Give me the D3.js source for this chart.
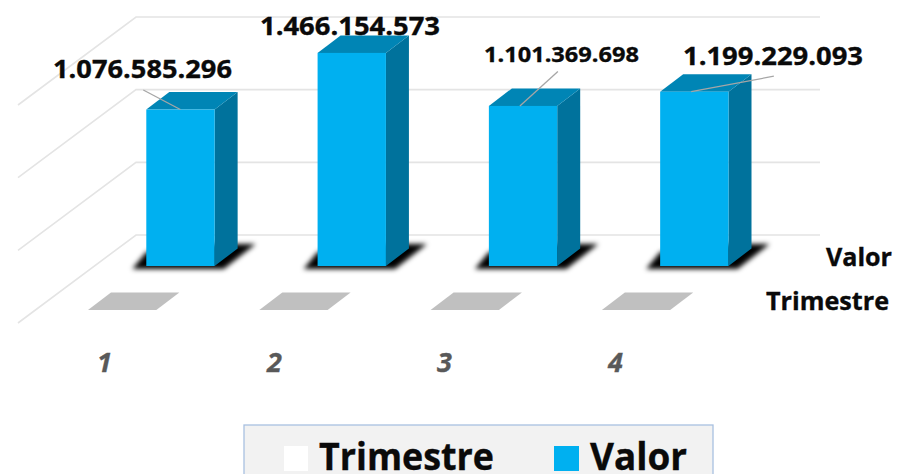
<!DOCTYPE html>
<html><head><meta charset="utf-8">
<script src="https://cdn.jsdelivr.net/npm/d3@7/dist/d3.min.js"></script>
<style>html,body{margin:0;padding:0;background:#fff;overflow:hidden}svg{display:block}text{font-family:"Open Sans","Noto Sans",sans-serif;font-weight:700;stroke:currentColor;stroke-width:.35px}</style>
</head><body><svg id="c" width="897" height="474"></svg>
<script>
const categories = ["1","2","3","4"];
const valor = [1076585296,1466154573,1101369698,1199229093];
const trimestre = [1,2,3,4];
const valueTicks = [0,500000000,1000000000,1500000000];
const seriesNames = ["Trimestre","Valor"];
const labelText = ["1.076.585.296","1.466.154.573","1.101.369.698","1.199.229.093"];

const svg = d3.select("#c").style("color","#0a0a0a");
const depth = {dx:23, dy:-17.5};
const floorShift = {dx:-118, dy:88};
const x = d3.scaleBand().domain(categories).range([146.3,728.5]).paddingInner(0.601).paddingOuter(0);
const y = d3.scaleLinear().domain([0,1500000000]).range([266,48]);
const defs = svg.append("defs");
defs.append("filter").attr("id","blur").attr("x","-20%").attr("y","-50%").attr("width","140%").attr("height","200%")
  .append("feGaussianBlur").attr("stdDeviation",2.8);

// gridlines: back wall + side wall
const backY = v => y(v)-31;
const grid = svg.append("g").attr("stroke","#e4e4e4").attr("fill","none");
grid.selectAll("polyline").data(valueTicks).join("polyline")
  .attr("stroke-width",1.6)
  .attr("points",v=>`${136+floorShift.dx},${backY(v)+floorShift.dy} 136,${backY(v)} 820,${backY(v)}`);

// Trimestre series: near-zero plates on the front row
const plateG = svg.append("g");
plateG.selectAll("polygon").data(trimestre).join("polygon")
  .attr("fill","#c0c0c0")
  .attr("points",(v,i)=>{
    const x0=x(categories[i])-58.3, x1=x0+x.bandwidth(), b=y(v)+44;
    return [[x0,b],[x1,b],[x1+depth.dx,b+depth.dy],[x0+depth.dx,b+depth.dy]].join(" ");
  });

// shadows
svg.append("g").selectAll("polygon").data(valor).join("polygon")
  .attr("fill","#000").attr("filter","url(#blur)")
  .attr("points",(v,i)=>{
    const x0=x(categories[i]), x1=x0+x.bandwidth(), b=y(0);
    return [[x0-14,b+3],[x1+9,b+3],[x1+41,b-22],[x1,b-22],[x0,b-14]].join(" ");
  });

// bars
const bars = svg.append("g").selectAll("g").data(valor).join("g");
bars.append("polygon").attr("fill","#00729c").attr("points",(v,i)=>{
  const x1=x(categories[i])+x.bandwidth(), t=y(v), b=y(0);
  return [[x1,t],[x1+depth.dx,t+depth.dy],[x1+depth.dx,b+depth.dy],[x1,b]].join(" ");
});
bars.append("polygon").attr("fill","#0085b5").attr("points",(v,i)=>{
  const x0=x(categories[i]), x1=x0+x.bandwidth(), t=y(v);
  return [[x0,t],[x1,t],[x1+depth.dx,t+depth.dy],[x0+depth.dx,t+depth.dy]].join(" ");
});
bars.append("rect").attr("fill","#00b0f0")
  .attr("x",(v,i)=>x(categories[i])).attr("y",v=>y(v))
  .attr("width",x.bandwidth()).attr("height",v=>y(0)-y(v));

// leader lines, anchored on the bar top
const leaderFrom = [[-3,-19.5],[0,0],[69,-34.5],[113.7,-15.5]];
const leaderTo = [[34,0],[0,0],[31,0],[31,0]];
svg.append("g").attr("stroke","#a6a6a6").attr("stroke-width",1.3).selectAll("line")
  .data(valor.map((v,i)=>i)).join("line").filter(i=>i!==1)
  .attr("x1",i=>x(categories[i])+leaderFrom[i][0]).attr("y1",i=>y(valor[i])+leaderFrom[i][1])
  .attr("x2",i=>x(categories[i])+leaderTo[i][0]).attr("y2",i=>y(valor[i])+leaderTo[i][1]);

// data labels
const labelX = [53,260,484,683], labelBase = [78,35,62,65], labelW=[179,180,155,180], labelSize=[25.5,25.5,22,25.5];
svg.append("g").selectAll("text").data(labelText).join("text")
  .attr("x",(d,i)=>labelX[i]).attr("y",(d,i)=>labelBase[i])
  .attr("font-size",(d,i)=>labelSize[i]).attr("fill","#0a0a0a")
  .attr("textLength",(d,i)=>labelW[i]).attr("lengthAdjust","spacingAndGlyphs")
  .text(d=>d);

// category labels
const catX=[97,267,437,608];
svg.append("g").style("color","#595959").selectAll("text").data(categories).join("text")
  .attr("x",(d,i)=>catX[i]).attr("y",372)
  .attr("font-size",27).attr("font-style","italic").attr("fill","#595959").text(d=>d);

// depth axis labels
svg.append("text").attr("x",826).attr("y",266).attr("font-size",25.5).attr("fill","#0a0a0a")
  .attr("textLength",66).attr("lengthAdjust","spacingAndGlyphs").text(seriesNames[1]);
svg.append("text").attr("x",766).attr("y",310).attr("font-size",25.5).attr("fill","#0a0a0a")
  .attr("textLength",123).attr("lengthAdjust","spacingAndGlyphs").text(seriesNames[0]);

// legend
const lg = svg.append("g");
lg.append("rect").attr("x",244).attr("y",425).attr("width",469).attr("height",60)
  .attr("fill","#f2f2f2").attr("stroke","#a8c0e0").attr("stroke-width",1.3);
const legendX=[284,554], legendTextX=[319,590], legendW=[175,97], legendColor=["#ffffff","#00b0f0"];
lg.selectAll("rect.sw").data(seriesNames).join("rect").attr("class","sw")
  .attr("x",(d,i)=>legendX[i]).attr("y",446).attr("width",(d,i)=>i?25:24).attr("height",25)
  .attr("fill",(d,i)=>legendColor[i]);
lg.selectAll("text").data(seriesNames).join("text")
  .attr("x",(d,i)=>legendTextX[i]).attr("y",470).attr("font-size",37).attr("fill","#0a0a0a")
  .attr("textLength",(d,i)=>legendW[i]).attr("lengthAdjust","spacingAndGlyphs").text(d=>d);
</script></body></html>
